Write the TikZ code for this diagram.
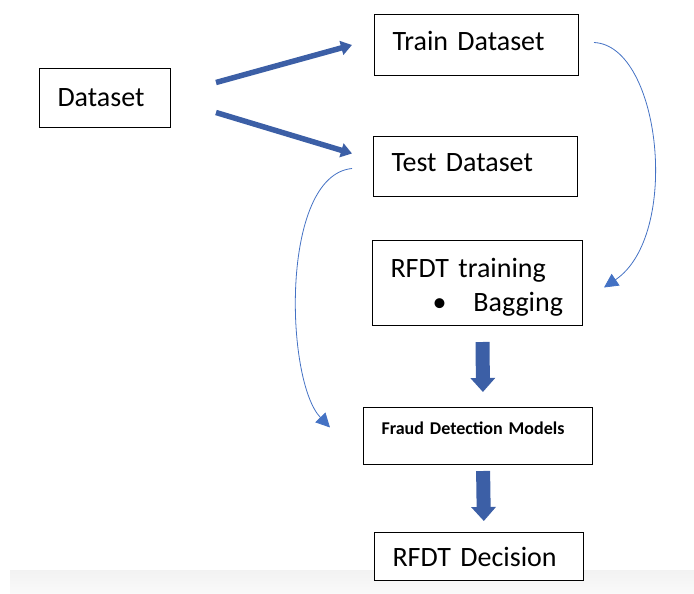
\documentclass[tikz,border=0pt]{standalone}
\usepackage{fontspec}
\setmainfont{Carlito}
\usetikzlibrary{arrows.meta}
\tikzset{>={Triangle[width=14pt,length=14pt]}}
\definecolor{darkblue}{HTML}{3C5FA6}
\definecolor{lightblue}{HTML}{4472C4}

\tikzset{
  box/.style={draw, fill=white, line width=1pt, anchor=north west,
    inner xsep=18pt, inner ysep=0pt, align=left,
    font=\fontsize{28}{34}\selectfont},
  fatarrow/.style={->, line width=5.5pt, color=darkblue,
    >={Triangle[width=14pt,length=11pt]}},
  blockarrow/.style={->, line width=14pt, color=darkblue,
    >={Triangle[width=24pt,length=14pt]}},
  bendarrow/.style={->, thick, color=lightblue}
}

\begin{document}
\begin{tikzpicture}[x=1pt, y=-1pt]

  \useasboundingbox (0,0) rectangle (694,594);
  \shade[top color=black!5, bottom color=black!2] (10,570) rectangle (694,594);

  \node[box, text width=95pt, text height=38pt, text depth=21pt]
    (data) at (39,68) {Dataset};
  \node[box, text width=168pt, text height=36pt, text depth=25pt]
    (train) at (374,14) {Train Dataset};
  \node[box, text width=168pt, text height=35pt, text depth=25pt]
    (test) at (373,136) {Test Dataset};
  \node[box, text width=174pt, text height=37pt, text depth=48pt]
    (training) at (372,240)
    {RFDT training\\\hspace*{42pt}\textbullet\hspace{27pt}\mbox{Bagging}};
  \node[box, text width=193pt, text height=27pt, text depth=30pt,
    font=\fontsize{18}{20}\bfseries]
    (fraud) at (363,407) {Fraud Detection Models};
  \node[box, text width=173pt, text height=34pt, text depth=14pt]
    (decision) at (374,532) {RFDT Decision};

  % split
  \draw[fatarrow] ([xshift=45pt,yshift=15.5pt]data.east)
    -- ([xshift=-22pt]train.west);
  \draw[fatarrow] ([xshift=45pt,yshift=-14.5pt]data.east)
    -- ([xshift=-21pt,yshift=13pt]test.west);

  % train / test sets
  \draw[bendarrow] ([xshift=15pt,yshift=2.5pt]train.east)
    .. controls +(67,3) and +(77,-52) .. ([xshift=21pt,yshift=-4.5pt]training.east);
  \draw[bendarrow] ([xshift=-21pt,yshift=-2pt]test.west)
    .. controls +(-72,7) and +(-45,-47) .. ([xshift=-33pt,yshift=8.5pt]fraud.west);

  % main flow
  \draw[blockarrow, shorten <=16pt, shorten >=15pt]
    ([xshift=5pt]training.south) -- ([xshift=5pt]fraud.north);
  \draw[blockarrow, shorten <=6pt, shorten >=11pt]
    ([xshift=5pt]fraud.south) -- ([xshift=5pt]decision.north);

\end{tikzpicture}
\end{document}
